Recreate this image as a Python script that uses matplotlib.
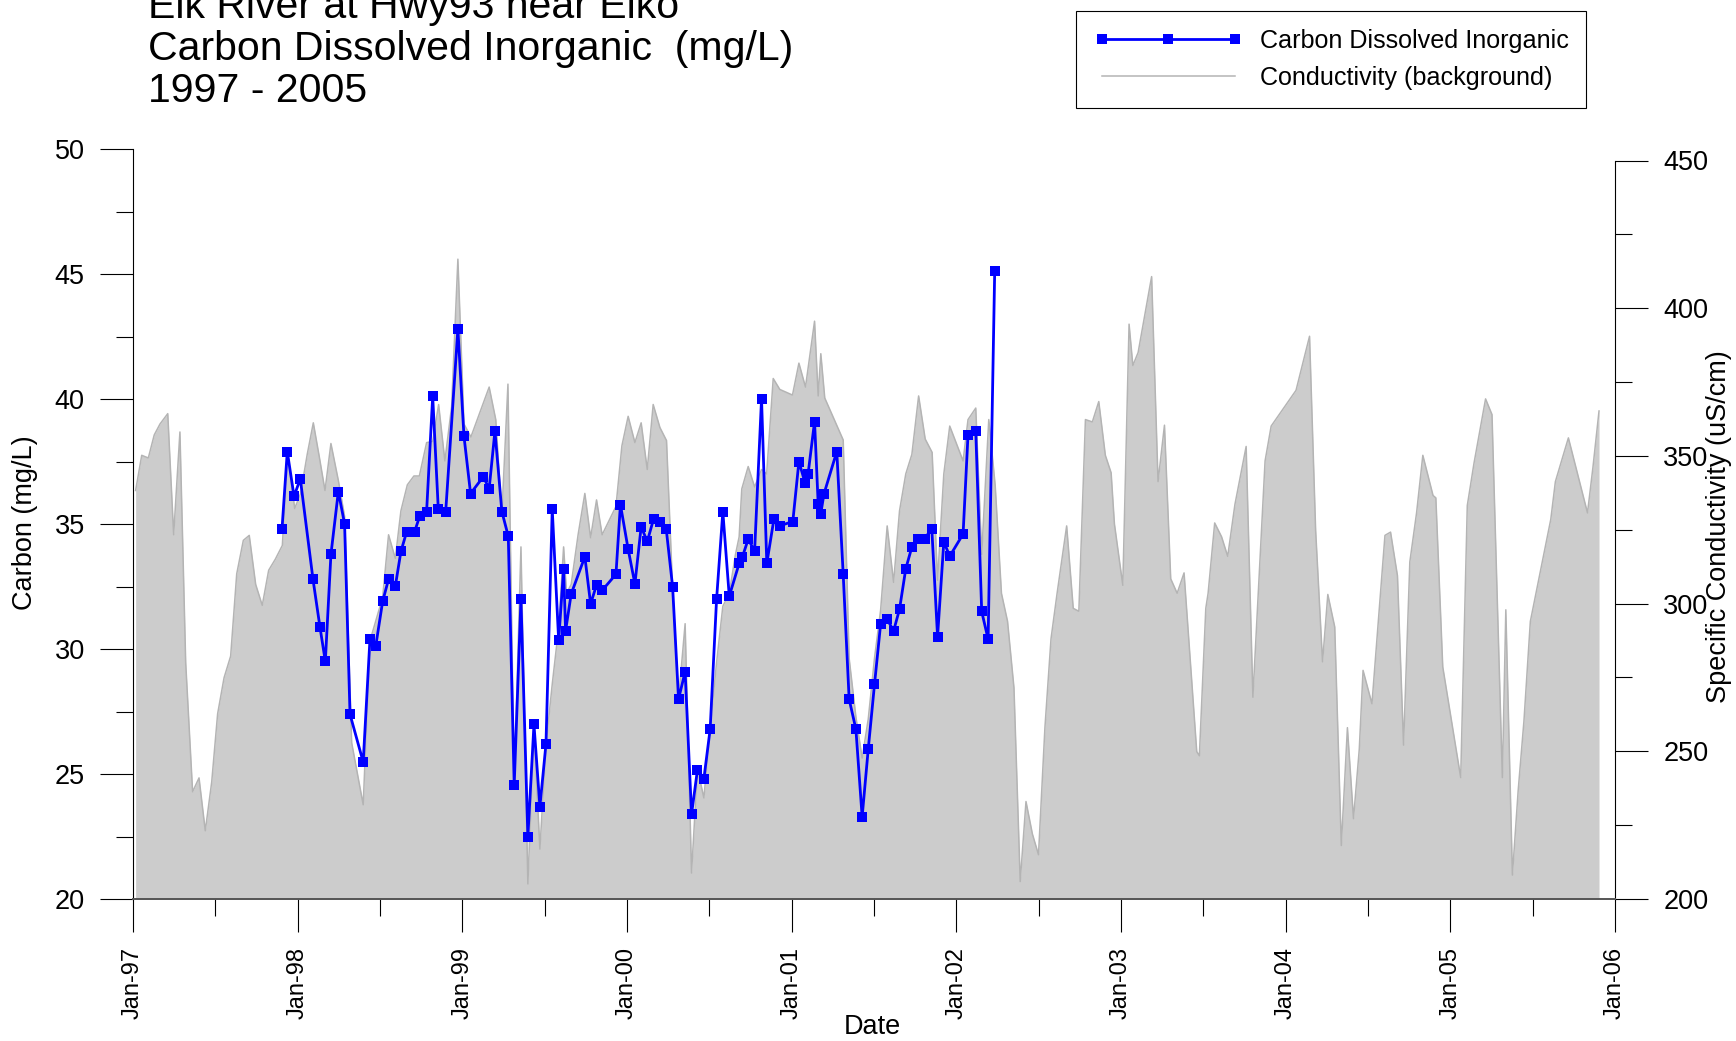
import matplotlib
matplotlib.use('Agg')
import matplotlib.pyplot as plt
from matplotlib.lines import Line2D
import numpy as np

plt.rcParams['font.family'] = ['Liberation Sans', 'DejaVu Sans']

# ---------------- data (decimal year, value) ----------------
carbon_year = [
    1997.905, 1997.937, 1997.978, 1998.016, 1998.093, 1998.135, 1998.168, 1998.202, 1998.247, 1998.285,
    1998.318, 1998.398, 1998.439, 1998.474, 1998.516, 1998.552, 1998.593, 1998.627, 1998.662, 1998.710,
    1998.741, 1998.783, 1998.820, 1998.854, 1998.899, 1998.973, 1999.010, 1999.050, 1999.127, 1999.163,
    1999.198, 1999.240, 1999.279, 1999.315, 1999.356, 1999.398, 1999.435, 1999.471, 1999.508, 1999.546,
    1999.585, 1999.615, 1999.627, 1999.661, 1999.744, 1999.779, 1999.815, 1999.849, 1999.933, 1999.960,
    2000.007, 2000.048, 2000.086, 2000.123, 2000.161, 2000.200, 2000.238, 2000.277, 2000.313, 2000.353,
    2000.392, 2000.428, 2000.467, 2000.505, 2000.544, 2000.582, 2000.621, 2000.681, 2000.701, 2000.736,
    2000.775, 2000.817, 2000.849, 2000.892, 2000.928, 2001.007, 2001.044, 2001.082, 2001.100, 2001.139,
    2001.161, 2001.177, 2001.196, 2001.274, 2001.313, 2001.349, 2001.390, 2001.428, 2001.465, 2001.503,
    2001.540, 2001.580, 2001.619, 2001.655, 2001.693, 2001.730, 2001.768, 2001.807, 2001.851, 2001.886,
    2001.924, 2001.960, 2002.041, 2002.071, 2002.118, 2002.154, 2002.193, 2002.233]
carbon_val = [
    34.82, 37.91, 36.12, 36.82, 32.80, 30.90, 29.51, 33.79, 36.31, 35.01,
    27.39, 25.48, 30.40, 30.12, 31.91, 32.80, 32.52, 33.91, 34.70, 34.70,
    35.32, 35.51, 40.12, 35.60, 35.51, 42.82, 38.52, 36.23, 36.90, 36.43,
    38.73, 35.51, 34.52, 24.57, 32.00, 22.49, 26.99, 23.69, 26.21, 35.60,
    30.35, 33.22, 30.73, 32.21, 33.70, 31.81, 32.57, 32.35, 33.00, 35.79,
    34.00, 32.61, 34.90, 34.31, 35.20, 35.11, 34.82, 32.50, 28.00, 29.10,
    23.39, 25.18, 24.82, 26.80, 32.00, 35.50, 32.12, 33.43, 33.70, 34.40,
    33.93, 40.02, 33.43, 35.20, 34.94, 35.11, 37.51, 36.64, 37.03, 39.11,
    35.81, 35.43, 36.21, 37.91, 32.99, 28.00, 26.80, 23.29, 26.00, 28.59,
    30.99, 31.20, 30.73, 31.60, 33.22, 34.09, 34.42, 34.42, 34.82, 30.50,
    34.30, 33.72, 34.61, 38.59, 38.73, 31.51, 30.40, 45.13]

cond_year = [
    1997.016, 1997.053, 1997.093, 1997.129, 1997.164, 1997.211, 1997.247, 1997.285, 1997.320, 1997.362,
    1997.401, 1997.439, 1997.478, 1997.514, 1997.553, 1997.593, 1997.630, 1997.670, 1997.706, 1997.745,
    1997.785, 1997.824, 1997.864, 1997.907, 1997.939, 1997.982, 1998.018, 1998.058, 1998.095, 1998.131,
    1998.166, 1998.202, 1998.247, 1998.285, 1998.328, 1998.398, 1998.439, 1998.516, 1998.552, 1998.593,
    1998.627, 1998.666, 1998.706, 1998.739, 1998.783, 1998.820, 1998.856, 1998.894, 1998.935, 1998.973,
    1999.010, 1999.052, 1999.163, 1999.203, 1999.240, 1999.277, 1999.315, 1999.356, 1999.398, 1999.435,
    1999.471, 1999.508, 1999.546, 1999.585, 1999.615, 1999.633, 1999.661, 1999.703, 1999.744, 1999.779,
    1999.815, 1999.849, 1999.933, 1999.969, 2000.007, 2000.048, 2000.086, 2000.123, 2000.159, 2000.200,
    2000.240, 2000.277, 2000.313, 2000.353, 2000.392, 2000.428, 2000.467, 2000.505, 2000.544, 2000.582,
    2000.621, 2000.659, 2000.681, 2000.697, 2000.736, 2000.775, 2000.817, 2000.848, 2000.888, 2000.928,
    2001.005, 2001.044, 2001.084, 2001.139, 2001.161, 2001.177, 2001.201, 2001.313, 2001.349, 2001.390,
    2001.428, 2001.465, 2001.503, 2001.540, 2001.580, 2001.619, 2001.655, 2001.693, 2001.730, 2001.771,
    2001.811, 2001.853, 2001.886, 2001.924, 2001.960, 2002.041, 2002.071, 2002.118, 2002.154, 2002.197,
    2002.236, 2002.274, 2002.311, 2002.350, 2002.388, 2002.423, 2002.462, 2002.499, 2002.538, 2002.575,
    2002.612, 2002.670, 2002.710, 2002.744, 2002.784, 2002.826, 2002.865, 2002.905, 2002.940, 2002.960,
    2003.011, 2003.049, 2003.072, 2003.104, 2003.186, 2003.225, 2003.264, 2003.302, 2003.341, 2003.383,
    2003.460, 2003.476, 2003.515, 2003.529, 2003.569, 2003.611, 2003.648, 2003.692, 2003.760, 2003.801,
    2003.875, 2003.912, 2004.063, 2004.145, 2004.182, 2004.224, 2004.256, 2004.298, 2004.338, 2004.375,
    2004.412, 2004.447, 2004.470, 2004.524, 2004.603, 2004.637, 2004.679, 2004.716, 2004.754, 2004.795,
    2004.833, 2004.895, 2004.912, 2004.954, 2005.063, 2005.103, 2005.144, 2005.214, 2005.253, 2005.316,
    2005.337, 2005.377, 2005.412, 2005.447, 2005.486, 2005.610, 2005.638, 2005.717, 2005.833, 2005.866,
    2005.903]
cond_val = [
    338.3, 350.2, 349.3, 357.1, 360.8, 364.3, 323.3, 358.1, 280.0, 236.3,
    241.0, 223.1, 239.6, 262.7, 274.9, 282.2, 310.1, 321.4, 323.1, 306.5,
    299.4, 311.3, 315.0, 319.7, 350.8, 332.2, 337.3, 350.5, 361.2, 349.8,
    338.3, 354.2, 341.7, 329.5, 252.9, 231.9, 287.4, 302.1, 323.3, 315.3,
    331.4, 340.2, 343.2, 343.2, 354.5, 354.9, 367.4, 348.3, 366.7, 416.6,
    360.8, 356.4, 373.3, 362.3, 330.0, 374.3, 238.9, 319.2, 205.1, 258.0,
    216.9, 252.1, 272.7, 291.8, 319.2, 303.5, 306.5, 323.3, 337.3, 322.3,
    335.1, 323.3, 332.9, 353.4, 363.4, 354.5, 361.2, 345.4, 367.4, 359.6,
    355.2, 305.0, 267.5, 293.2, 208.8, 244.1, 234.2, 258.0, 280.0, 299.1,
    303.5, 316.7, 322.6, 338.8, 346.4, 339.5, 345.4, 343.9, 376.2, 372.5,
    370.6, 381.4, 373.3, 395.6, 370.3, 384.6, 369.6, 355.4, 281.5, 261.7,
    247.7, 260.9, 281.5, 297.7, 326.3, 307.2, 331.4, 343.9, 350.5, 370.3,
    355.7, 351.2, 307.9, 343.9, 360.1, 348.3, 362.3, 366.2, 316.7, 362.3,
    340.0, 303.5, 294.0, 271.5, 205.9, 233.0, 222.0, 215.0, 258.0, 288.1,
    303.5, 326.3, 298.4, 297.4, 362.3, 361.5, 368.4, 350.2, 344.3, 327.0,
    306.2, 394.6, 380.6, 385.0, 410.7, 341.3, 360.4, 308.4, 303.5, 310.4,
    249.9, 248.5, 298.4, 303.5, 327.3, 322.6, 316.0, 333.6, 353.2, 268.3,
    348.3, 360.1, 372.2, 390.5, 324.8, 280.3, 303.1, 292.1, 218.1, 258.0,
    227.2, 250.7, 277.4, 266.1, 323.1, 324.2, 309.4, 252.1, 314.1, 330.7,
    350.2, 336.6, 335.8, 278.6, 241.1, 333.2, 347.6, 369.3, 364.0, 241.1,
    297.9, 208.1, 236.7, 260.2, 294.0, 328.5, 341.3, 356.1, 330.7, 346.1,
    365.2]

year_ticks = list(range(1997, 2007))
year_labels = ['Jan-97', 'Jan-98', 'Jan-99', 'Jan-00', 'Jan-01', 'Jan-02',
               'Jan-03', 'Jan-04', 'Jan-05', 'Jan-06']
title_lines = ['Elk River at Hwy93 near Elko', 'Carbon Dissolved Inorganic  (mg/L)', '1997 - 2005']

# ---------------- layout ----------------
W, H = 1736, 1041
fig = plt.figure(figsize=(W / 100, H / 100), dpi=100)
L, R, B, T = 133, 1615, 899, 149.5
ax = fig.add_axes([L / W, 1 - B / H, (R - L) / W, (B - T) / H])
ax2 = ax.twinx()
ax.set_zorder(ax2.get_zorder() + 1)
ax.patch.set_visible(False)

# background conductivity
ax2.fill_between(cond_year, 200, cond_val, color='#cccccc', lw=0)
ax2.plot(cond_year, cond_val, color='#b4b4b4', lw=1.1)

# carbon series
ax.plot(carbon_year, carbon_val, color='#0000ff', lw=2.0, marker='s', ms=7,
        markeredgewidth=0, clip_on=False)

ax.set_xlim(1997, 2006)
ax.set_ylim(20, 50)
ax2.set_ylim(200, 200 + 250 * (B - T) / (B - 160.5))

ax.set_xticks(year_ticks)
ax.set_xticklabels(year_labels, rotation=90, fontsize=17)
ax.set_xticks(np.arange(1997.5, 2006, 1.0), minor=True)
ax.set_yticks(np.arange(20, 51, 5))
ax.set_yticks(np.arange(22.5, 50, 5), minor=True)
ax.tick_params(axis='y', labelsize=19.5)
ax2.set_yticks(np.arange(200, 451, 50))
ax2.set_yticks(np.arange(225, 450, 50), minor=True)
ax2.tick_params(axis='y', labelsize=19.5)

for a in (ax, ax2):
    a.tick_params(which='major', length=23.8, width=0.8, direction='out', pad=11, color='black')
    a.tick_params(which='minor', length=12.2, width=0.8, direction='out', color='black')

ax.spines['top'].set_visible(False)
ax.spines['right'].set_visible(False)
ax.spines['left'].set_linewidth(0.8)
ax.spines['bottom'].set_color('#555555')
ax.spines['bottom'].set_linewidth(1.4)
for s in ('top', 'left', 'bottom'):
    ax2.spines[s].set_visible(False)
ax2.spines['right'].set_bounds(200, 450)
ax2.spines['right'].set_linewidth(0.8)

# axis labels
fig.text(25 / W, 1 - 522.5 / H, 'Carbon (mg/L)', rotation=90, ha='center', va='center', fontsize=19.5)
fig.text(1719 / W, 1 - 527 / H, 'Specific Conductivity (uS/cm)', rotation=90, ha='center', va='center', fontsize=19.5)
fig.text(872 / W, 1 - 1027 / H, 'Date', ha='center', va='center', fontsize=19.5)

# title
for txt, base in zip(title_lines, [18, 60, 102]):
    fig.text(148 / W, 1 - base / H, txt, ha='left', va='baseline', fontsize=29.5)

# legend
h1 = Line2D([], [], color='#0000ff', lw=2.0, marker='s', ms=7, markeredgewidth=0)
h2 = Line2D([], [], color='#b4b4b4', lw=1.1)
leg = fig.legend([h1, h2], ['Carbon Dissolved Inorganic', 'Conductivity (background)'],
                 loc='upper left', bbox_to_anchor=(1076 / W, 1 - 11 / H),
                 bbox_transform=fig.transFigure, borderaxespad=0, frameon=True,
                 fancybox=False, edgecolor='black', framealpha=1, numpoints=3,
                 handlelength=5.9, handletextpad=0.68, borderpad=0.72,
                 labelspacing=0.52, prop={'size': 18.1})
leg.get_frame().set_linewidth(0.8)

fig.savefig('out.png', dpi=100)
